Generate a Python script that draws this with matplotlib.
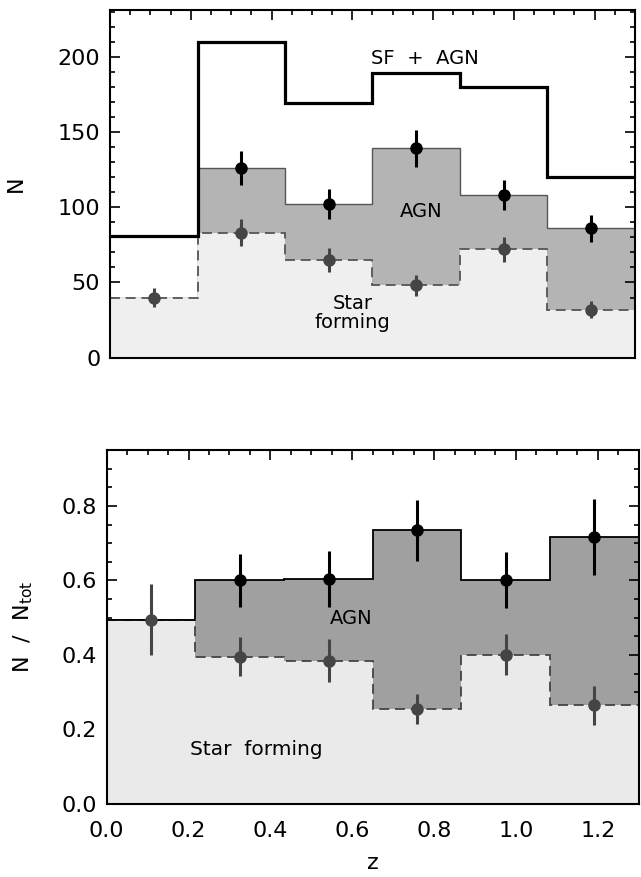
import numpy as np
import matplotlib
matplotlib.use("Agg")
import matplotlib.pyplot as plt
from matplotlib.ticker import MultipleLocator

plt.rcParams["font.family"] = ["DejaVu Sans"]

# redshift bins (6 equal bins over 0 < z < 1.3)
z_edges = [0.0, 0.2167, 0.4333, 0.65, 0.8667, 1.0833, 1.3]
z_mid   = [0.108, 0.325, 0.542, 0.758, 0.975, 1.192]

# number counts per bin
n_total   = [81, 210, 169, 189, 180, 120]
n_agn     = [40, 126, 102, 139, 108, 86]
n_agn_err = [6, 11, 10, 12, 10, 9]
n_sf      = [40, 83, 65, 48, 72, 32]
n_sf_err  = [6, 9, 8, 7, 8.5, 5.7]

# fractions of the total per bin
f_agn     = [0.495, 0.600, 0.603, 0.735, 0.600, 0.717]
f_agn_err = [0.095, 0.070, 0.075, 0.082, 0.075, 0.102]
f_sf      = [0.495, 0.395, 0.385, 0.255, 0.400, 0.265]
f_sf_err  = [0.095, 0.052, 0.058, 0.040, 0.055, 0.052]

DASH = (0, (5.5, 3.2))

fig = plt.figure(figsize=(6.41, 8.77), dpi=100)
ax1 = fig.add_axes([0.1716, 0.5921, 0.8190, 0.3965])
ax2 = fig.add_axes([0.1665, 0.0832, 0.8299, 0.4037])


def style_axes(ax, xmaj, xmin, ymaj, ymin):
    ax.xaxis.set_major_locator(MultipleLocator(xmaj))
    ax.xaxis.set_minor_locator(MultipleLocator(xmin))
    ax.yaxis.set_major_locator(MultipleLocator(ymaj))
    ax.yaxis.set_minor_locator(MultipleLocator(ymin))
    ax.tick_params(which="both", direction="in", top=True, right=True,
                   width=1.2, colors="black")
    ax.tick_params(which="major", length=7.5, labelsize=16, pad=7)
    ax.tick_params(which="minor", length=3.8)
    ax.tick_params(axis="x", which="major", pad=12)
    for sp in ax.spines.values():
        sp.set_linewidth(1.5)
        sp.set_zorder(10)


# --- top: counts ---------------------------------------------
ax1.stairs(n_agn, z_edges, fill=True, color="#b4b4b4", zorder=1)
ax1.stairs(n_agn, z_edges, baseline=None, color="#555555", lw=1.0, zorder=2)
ax1.stairs(n_sf, z_edges, fill=True, color="#efefef", zorder=2.5)
ax1.stairs(n_sf, z_edges, baseline=None, color="#555555", lw=1.3,
           linestyle=DASH, zorder=3)
ax1.stairs(n_total, z_edges, baseline=None, color="black", lw=2.3, zorder=4)

ax1.errorbar(z_mid[1:], n_agn[1:], yerr=n_agn_err[1:], fmt="o", color="black",
             ms=8, elinewidth=2.2, capsize=0, zorder=6)
ax1.errorbar(z_mid, n_sf, yerr=n_sf_err, fmt="o", color="#454545",
             ms=8, elinewidth=2.2, capsize=0, zorder=6)

ax1.text(0.78, 199, "SF  +  AGN", fontsize=14, ha="center", va="center", zorder=7)
ax1.text(0.77, 97, "AGN", fontsize=14, ha="center", va="center", zorder=7)
ax1.text(0.60, 30, "Star\nforming", fontsize=14, ha="center", va="center",
         linespacing=1.0, zorder=7)

ax1.set_xlim(0, 1.3)
ax1.set_ylim(0, 231)
style_axes(ax1, 0.2, 0.05, 50, 10)
ax1.tick_params(labelbottom=False)
ax1.set_ylabel("N", fontsize=16)
ax1.yaxis.set_label_coords(-0.16, 0.5)

# --- bottom: fractions ---------------------------------------------
ax2.stairs(f_agn, z_edges, fill=True, color="#a0a0a0", zorder=1)
ax2.stairs(f_agn, z_edges, baseline=None, color="black", lw=1.3, zorder=2)
ax2.stairs(f_sf, z_edges, fill=True, color="#eaeaea", zorder=2.5)
ax2.stairs(f_sf, z_edges, baseline=None, color="#444444", lw=1.3,
           linestyle=DASH, zorder=3)
ax2.stairs(f_agn[:1], z_edges[:2], baseline=None, color="black", lw=1.3, zorder=3.5)

ax2.errorbar(z_mid[1:], f_agn[1:], yerr=f_agn_err[1:], fmt="o", color="black",
             ms=8, elinewidth=2.2, capsize=0, zorder=6)
ax2.errorbar(z_mid, f_sf, yerr=f_sf_err, fmt="o", color="#454545",
             ms=8, elinewidth=2.2, capsize=0, zorder=6)

ax2.text(0.598, 0.499, "AGN", fontsize=14, ha="center", va="center", zorder=7)
ax2.text(0.365, 0.145, "Star  forming", fontsize=14.5, ha="center", va="center", zorder=7)

ax2.set_xlim(0, 1.3)
ax2.set_ylim(0, 0.95)
style_axes(ax2, 0.2, 0.05, 0.2, 0.05)
ax2.xaxis.set_major_formatter(lambda v, p: f"{v:.1f}")
ax2.yaxis.set_major_formatter(lambda v, p: f"{v:.1f}")
ax2.set_xlabel("z", fontsize=16, labelpad=9)
ax2.set_ylabel(r"N  /  N$_{\mathregular{tot}}$", fontsize=16)
ax2.yaxis.set_label_coords(-0.135, 0.5)

fig.savefig("out.png", dpi=100)
